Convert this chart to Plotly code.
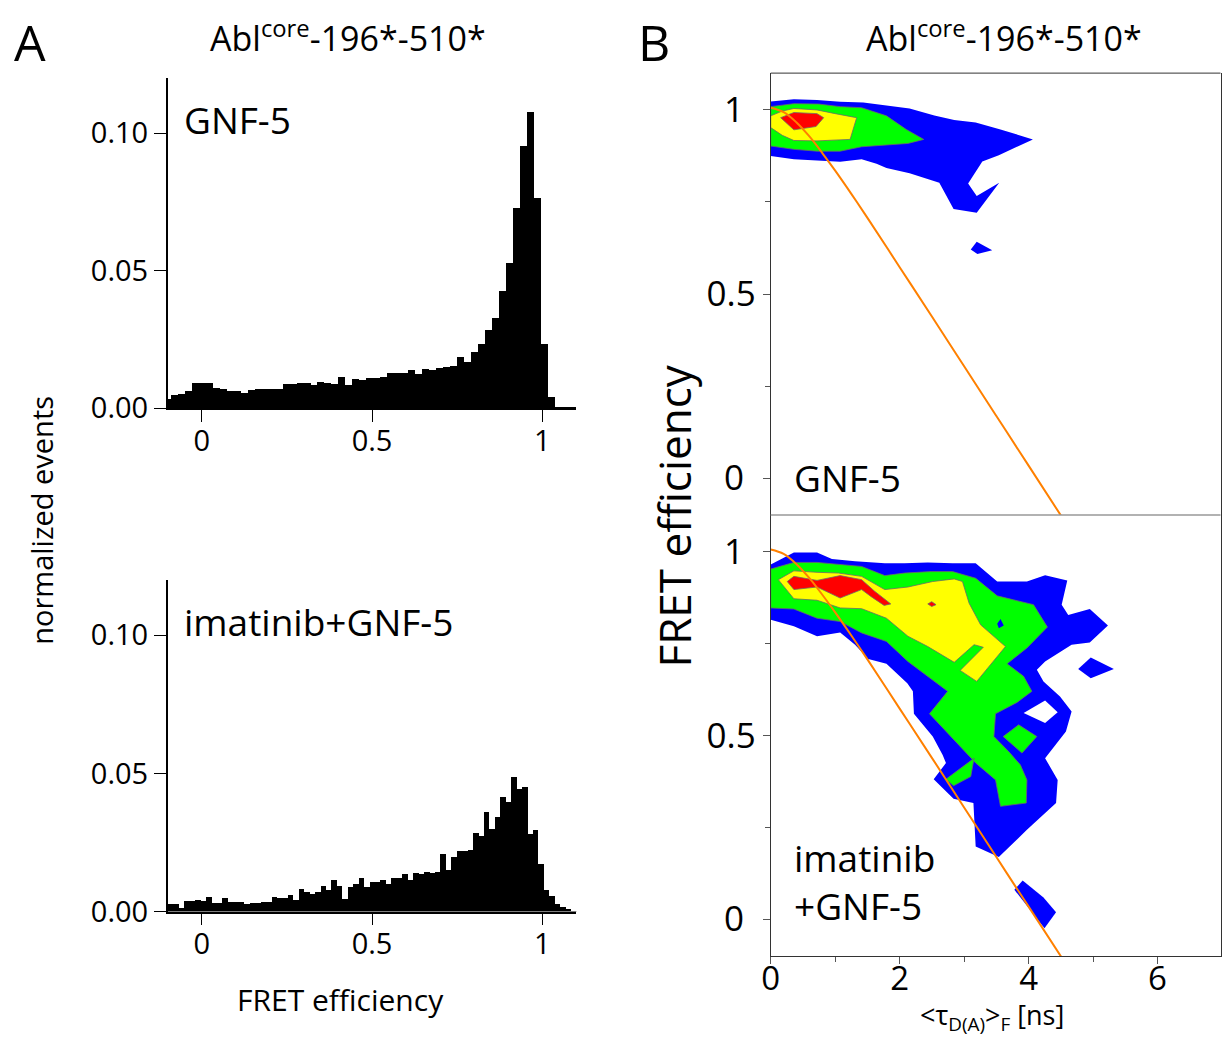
import plotly.graph_objects as go

# ---------------- Histogram data (panel A) ----------------
top_bin_width = 0.0205
top_first_center = -0.10175
top_counts = [
    0.0035, 0.0047, 0.0053, 0.0063, 0.0093, 0.0093, 0.0093, 0.0075, 0.0069, 0.0063,
    0.0063, 0.0057, 0.0065, 0.0071, 0.0071, 0.0071, 0.0071, 0.0087, 0.0087, 0.0091,
    0.0093, 0.0086, 0.0097, 0.0091, 0.0089, 0.0114, 0.0086, 0.0105, 0.0104, 0.0109,
    0.0108, 0.0112, 0.0127, 0.0129, 0.0129, 0.0138, 0.0123, 0.0141, 0.0139, 0.0147,
    0.0151, 0.0153, 0.0187, 0.0169, 0.0205, 0.0233, 0.0284, 0.0329, 0.0426, 0.0528,
    0.0727, 0.0954, 0.1077, 0.0763, 0.0233, 0.0042, 0.0006, 0.0002, 0.0001,
]

bot_bin_width = 0.016
bot_first_center = -0.092
bot_counts = [
    0.0028, 0.0028, 0.0014, 0.0040, 0.0040, 0.0042, 0.0039, 0.0052, 0.0030, 0.0030,
    0.0048, 0.0034, 0.0034, 0.0034, 0.0027, 0.0031, 0.0031, 0.0034, 0.0034, 0.0052,
    0.0048, 0.0048, 0.0059, 0.0042, 0.0081, 0.0070, 0.0064, 0.0072, 0.0093, 0.0080,
    0.0116, 0.0091, 0.0047, 0.0088, 0.0100, 0.0120, 0.0089, 0.0106, 0.0108, 0.0115,
    0.0099, 0.0121, 0.0121, 0.0136, 0.0115, 0.0139, 0.0136, 0.0145, 0.0141, 0.0144,
    0.0209, 0.0151, 0.0197, 0.0221, 0.0221, 0.0223, 0.0284, 0.0274, 0.0362, 0.0300,
    0.0342, 0.0414, 0.0396, 0.0487, 0.0444, 0.0450, 0.0281, 0.0296, 0.0173, 0.0079,
    0.0057, 0.0028, 0.0016, 0.0008, 0.0002,
]

hist_x_ticks = [0, 0.5, 1]
hist_x_ticktext = ["0", "0.5", "1"]
hist_y_ticks = [0, 0.05, 0.10]
hist_y_ticktext = ["0.00", "0.05", "0.10"]

# ---------------- Static FRET line (panel B) ----------------
line_tau = [0.0, 0.2, 0.4, 0.6, 0.8, 1.0, 1.25, 1.5, 2.0, 2.5, 3.0, 3.5, 4.0, 4.6]
line_E = [1.006, 0.994, 0.966, 0.928, 0.883, 0.835, 0.772, 0.707, 0.573, 0.439, 0.304, 0.169, 0.034, -0.128]

# ---------------- Contour regions (tau [ns], E) ----------------
# GNF-5
gnf_blue = [(0, 1.023), (0.359, 1.029), (0.718, 1.027), (1.077, 1.022), (1.436, 1.020),
            (1.795, 1.013), (2.154, 1.004), (2.538, 0.985), (2.846, 0.973), (3.179, 0.966),
            (3.564, 0.947), (4.067, 0.920), (3.538, 0.877), (3.282, 0.860), (3.062, 0.800),
            (3.195, 0.766), (3.544, 0.802), (3.195, 0.721), (2.836, 0.731), (2.615, 0.802),
            (2.154, 0.828), (1.795, 0.842), (1.641, 0.854), (1.410, 0.866), (1.077, 0.859),
            (0.359, 0.866), (0, 0.875)]
gnf_blue_island = [(3.103, 0.621), (3.195, 0.642), (3.436, 0.619), (3.205, 0.609)]
gnf_green = [(0, 1.009), (0.359, 1.017), (0.744, 1.016), (1.077, 1.009), (1.410, 1.006),
             (1.795, 0.984), (2.103, 0.947), (2.374, 0.920), (2.128, 0.909), (1.795, 0.904),
             (1.410, 0.900), (1.077, 0.888), (0.718, 0.888), (0.359, 0.893), (0, 0.902)]
gnf_yellow = [(0, 0.984), (0.179, 0.997), (0.359, 1.004), (0.718, 1.000), (1.0, 0.990),
              (1.333, 0.979), (1.231, 0.920), (0.718, 0.916), (0.359, 0.917), (0.179, 0.931),
              (0, 0.952)]
gnf_red = [(0.154, 0.979), (0.359, 0.993), (0.718, 0.990), (0.821, 0.979), (0.703, 0.955),
           (0.359, 0.946)]

# imatinib + GNF-5
im_blue = [(0, 0.965), (0.359, 0.998), (0.718, 0.998), (0.949, 0.980), (1.308, 0.974),
           (1.769, 0.969), (2.077, 0.969), (2.436, 0.971), (2.821, 0.969), (3.179, 0.969),
           (3.513, 0.919), (3.974, 0.919), (4.256, 0.936), (4.600, 0.922), (4.513, 0.856),
           (4.615, 0.828), (4.949, 0.844), (5.231, 0.799), (4.949, 0.753), (4.667, 0.747),
           (4.256, 0.701), (4.128, 0.679), (4.231, 0.647), (4.487, 0.606), (4.667, 0.565),
           (4.579, 0.511), (4.256, 0.438), (4.451, 0.379), (4.426, 0.316), (3.974, 0.243),
           (3.538, 0.169), (3.179, 0.198), (3.144, 0.316), (2.836, 0.328), (2.528, 0.381),
           (2.718, 0.425), (2.667, 0.447), (2.513, 0.497), (2.221, 0.559), (2.205, 0.620),
           (2.118, 0.642), (1.795, 0.695), (1.513, 0.708), (1.308, 0.747), (1.077, 0.780),
           (0.718, 0.770), (0.359, 0.797), (0, 0.815)]
im_blue_hole = [(3.923, 0.561), (4.256, 0.595), (4.451, 0.563), (4.256, 0.534)]
im_blue_island1 = [(4.769, 0.681), (4.964, 0.712), (5.323, 0.681), (4.964, 0.656)]
im_blue_island2 = [(3.779, 0.080), (3.908, 0.105), (4.231, 0.059), (4.426, 0.019), (4.246, -0.025)]
im_blue_spot = [(3.513, 0.804), (3.564, 0.817), (3.615, 0.799), (3.538, 0.792)]
im_green = [(0, 0.953), (0.359, 0.971), (0.718, 0.971), (1.051, 0.965), (1.410, 0.960),
            (1.769, 0.935), (2.077, 0.942), (2.487, 0.946), (2.821, 0.946), (3.179, 0.928),
            (3.513, 0.880), (3.769, 0.869), (4.077, 0.856), (4.292, 0.795), (3.974, 0.738),
            (3.667, 0.695), (3.923, 0.661), (4.051, 0.620), (3.821, 0.590), (3.487, 0.559),
            (3.462, 0.497), (3.692, 0.456), (3.872, 0.420), (3.974, 0.379), (3.964, 0.316),
            (3.564, 0.307), (3.487, 0.379), (3.179, 0.425), (2.846, 0.488), (2.462, 0.559),
            (2.744, 0.620), (2.128, 0.701), (1.795, 0.756), (1.410, 0.779), (1.077, 0.810),
            (0.718, 0.819), (0.359, 0.844), (0, 0.847)]
im_green_lobe = [(2.718, 0.381), (3.154, 0.438), (3.103, 0.388), (2.836, 0.363)]
im_green_diamond = [(3.605, 0.497), (3.846, 0.529), (4.128, 0.497), (3.897, 0.452)]
im_yellow = [(0.118, 0.924), (0.359, 0.948), (0.718, 0.944), (1.051, 0.942), (1.410, 0.933),
             (1.769, 0.897), (2.128, 0.904), (2.513, 0.919), (2.846, 0.926), (2.974, 0.919),
             (3.077, 0.860), (3.256, 0.801), (3.641, 0.742), (3.195, 0.647), (2.938, 0.677),
             (3.297, 0.740), (3.154, 0.747), (2.846, 0.699), (2.436, 0.742), (2.128, 0.770),
             (1.795, 0.819), (1.410, 0.845), (1.077, 0.847), (0.718, 0.868), (0.359, 0.872)]
im_red = [(0.256, 0.919), (0.359, 0.933), (0.718, 0.922), (1.077, 0.935), (1.410, 0.924),
          (1.615, 0.892), (1.862, 0.858), (1.759, 0.854), (1.564, 0.877), (1.410, 0.897),
          (1.077, 0.874), (0.718, 0.904), (0.359, 0.897)]
im_red_dot = [(2.436, 0.858), (2.497, 0.864), (2.564, 0.856), (2.497, 0.851)]

contour_x_ticks = [0, 2, 4, 6]
contour_x_minor = [1, 3, 5]
contour_y_ticks = [0, 0.5, 1]
contour_y_ticktext = ["0\u2009\u2009", "0.5", "1\u2009\u2009"]
contour_y_minor = [0.25, 0.75]

BLUE, GREEN, YELLOW, RED, WHITE = "#0000ff", "#00ff00", "#ffff00", "#ff0000", "#ffffff"
FONT = "Open Sans"

# Page geometry: default 8 px body margin; the photographed page is squeezed a bit vertically.
OFF = 8
W = 1214
H = 1046
SY = 1062.0 / 1044.0
DXL = -4  # small horizontal nudge for the left panel


def PX(x):
    return (x - OFF) / W


def PY(y):
    return 1 - (y * SY - OFF) / H


fig = go.Figure()

top_centers = [top_first_center + i * top_bin_width for i in range(len(top_counts))]
bot_centers = [bot_first_center + i * bot_bin_width for i in range(len(bot_counts))]

fig.add_trace(go.Bar(x=top_centers, y=top_counts, width=top_bin_width, marker=dict(color="black", line=dict(width=0)),
                     xaxis="x", yaxis="y", showlegend=False, hoverinfo="skip"))
fig.add_trace(go.Bar(x=bot_centers, y=bot_counts, width=bot_bin_width, marker=dict(color="black", line=dict(width=0)),
                     xaxis="x2", yaxis="y2", showlegend=False, hoverinfo="skip"))


def poly(pts, color, xa, ya, outline=True):
    xs = [p[0] for p in pts] + [pts[0][0]]
    ys = [p[1] for p in pts] + [pts[0][1]]
    fig.add_trace(go.Scatter(
        x=xs, y=ys, mode="lines", fill="toself", fillcolor=color,
        line=dict(color="#6a6a6a" if outline else color, width=0.8 if outline else 0),
        xaxis=xa, yaxis=ya, showlegend=False, hoverinfo="skip"))


# GNF-5 panel (top right)
poly(gnf_blue, BLUE, "x3", "y3", outline=False)
poly(gnf_blue_island, BLUE, "x3", "y3", outline=False)
poly(gnf_green, GREEN, "x3", "y3")
poly(gnf_yellow, YELLOW, "x3", "y3")
poly(gnf_red, RED, "x3", "y3")

# imatinib + GNF-5 panel (bottom right)
poly(im_blue, BLUE, "x4", "y4", outline=False)
poly(im_blue_island1, BLUE, "x4", "y4", outline=False)
poly(im_blue_island2, BLUE, "x4", "y4", outline=False)
poly(im_blue_hole, WHITE, "x4", "y4", outline=False)
poly(im_green, GREEN, "x4", "y4")
poly(im_green_lobe, GREEN, "x4", "y4")
poly(im_green_diamond, GREEN, "x4", "y4")
poly(im_blue_spot, BLUE, "x4", "y4", outline=False)
poly(im_yellow, YELLOW, "x4", "y4")
poly(im_red, RED, "x4", "y4")
poly(im_red_dot, RED, "x4", "y4")

for xa, ya in (("x3", "y3"), ("x4", "y4")):
    fig.add_trace(go.Scatter(x=line_tau, y=line_E, mode="lines", line=dict(color="#ff8000", width=2, shape="spline"),
                             xaxis=xa, yaxis=ya, showlegend=False, hoverinfo="skip"))

hx = [PX(164 + DXL), PX(576 + DXL)]
right_left, right_right = 768, 1221.5
rx = [PX(right_left), PX(right_right)]
tau_max = (right_right - right_left) / 65.0

hist_xaxis = dict(range=[-0.1, 1.1], showline=True, linecolor="black", linewidth=1.5, ticks="outside",
                  ticklen=12, tickwidth=1.2, tickcolor="black", tickvals=hist_x_ticks, ticktext=hist_x_ticktext,
                  tickfont=dict(size=29, family=FONT, color="black"), showgrid=False, zeroline=False,
                  ticklabelstandoff=-6)
hist_yaxis = dict(range=[0, 0.12], showline=True, linecolor="black", linewidth=1.5, ticks="outside",
                  ticklen=12, tickwidth=1.2, tickcolor="black", tickvals=hist_y_ticks, ticktext=hist_y_ticktext,
                  tickfont=dict(size=29, family=FONT, color="black"), showgrid=False, zeroline=False)

cy = dict(range=[-0.1, 1.1], showline=True, linecolor="#333333", linewidth=1, mirror=True, ticks="outside",
          ticklen=7, tickwidth=1, tickcolor="#555555", tickvals=contour_y_ticks, ticktext=contour_y_ticktext,
          tickfont=dict(size=35, family=FONT, color="black"), showgrid=False, zeroline=False,
          minor=dict(tickvals=contour_y_minor, ticks="outside", ticklen=5, tickcolor="#555555"))

fig.update_layout(
    width=W, height=H, autosize=False, margin=dict(l=0, r=0, t=0, b=0),
    paper_bgcolor="white", plot_bgcolor="white", bargap=0,
    font=dict(family=FONT, color="black", size=20),
    xaxis=dict(hist_xaxis, domain=hx, anchor="y"),
    yaxis=dict(hist_yaxis, domain=[PY(408.3), PY(78)], anchor="x"),
    xaxis2=dict(hist_xaxis, domain=hx, anchor="y2"),
    yaxis2=dict(hist_yaxis, domain=[PY(911.7), PY(580)], anchor="x2"),
    xaxis3=dict(domain=rx, anchor="y3", range=[0, tau_max], showline=False, ticks="", showticklabels=False,
                showgrid=False, zeroline=False),
    yaxis3=dict(cy, domain=[PY(515), PY(73)], anchor="x3"),
    xaxis4=dict(domain=rx, anchor="y4", range=[0, tau_max], showline=True, linecolor="#333333", linewidth=1,
                ticks="outside", ticklen=7, tickwidth=1, tickcolor="#555555", tickvals=contour_x_ticks,
                tickfont=dict(size=33, family=FONT, color="black"), showgrid=False, zeroline=False,
                ticklabelstandoff=-13,
                minor=dict(tickvals=contour_x_minor, ticks="outside", ticklen=5, tickcolor="#555555")),
    yaxis4=dict(cy, domain=[PY(956), PY(515)], anchor="x4"),
    shapes=[
        dict(type="line", xref="x3 domain", yref="y3 domain", x0=0, x1=1, y0=1, y1=1,
             line=dict(color="#333333", width=1)),
        dict(type="line", xref="x4 domain", yref="y4 domain", x0=0, x1=1, y0=1, y1=1,
             line=dict(color="#999999", width=1.5)),
    ],
)


def note(text, x, y, size, xanchor="center", angle=0, yanchor="middle"):
    fig.add_annotation(text=text, x=PX(x), y=PY(y), xref="paper", yref="paper", showarrow=False,
                       xanchor=xanchor, yanchor=yanchor, textangle=angle,
                       font=dict(size=size, family=FONT, color="black"), align="left")


note("A", 3, 42, 50, xanchor="left")
note("B", 632, 42, 50, xanchor="left")
note("Abl<sup>core</sup>-196*-510*", 342, 36, 34)
note("Abl<sup>core</sup>-196*-510*", 1003, 36, 34)
note("GNF-5", 174, 119, 37, xanchor="left")
note("imatinib+GNF-5", 174, 622, 37, xanchor="left")
note("normalized events", 32, 520, 29, angle=-90)
note("FRET efficiency", 334, 1000, 30)
note("GNF-5", 789, 477, 37, xanchor="left")
note("imatinib<br>+GNF-5", 789, 882, 37, xanchor="left")
note("FRET efficiency", 670, 516, 44, angle=-90)
note("&lt;τ<sub>D(A)</sub>&gt;<sub>F</sub> [ns]", 991, 994, 27, yanchor="top")

fig.write_html("out.html")
